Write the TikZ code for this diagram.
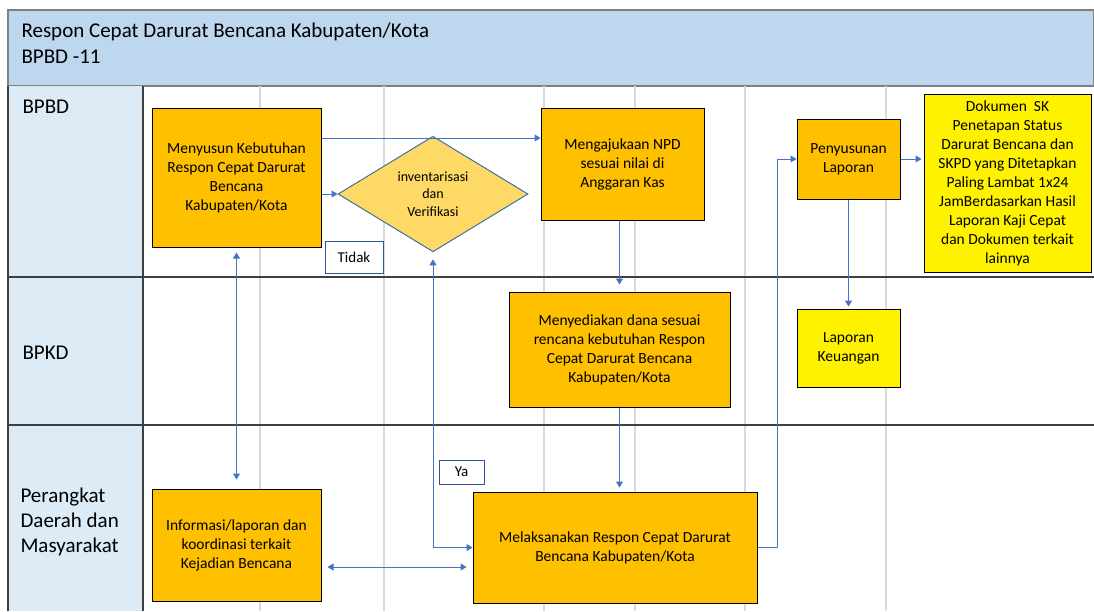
\documentclass[tikz,border=0pt]{standalone}
\usepackage{fontspec}
\setmainfont{Carlito}
\usetikzlibrary{shapes.geometric,arrows.meta,calc}

\definecolor{hdrblue}{HTML}{BDD7EE}
\definecolor{lanefill}{HTML}{DDEBF7}
\definecolor{boxorange}{HTML}{FFC000}
\definecolor{dmdfill}{HTML}{FFD966}
\definecolor{dmdline}{HTML}{41719C}
\definecolor{flowblue}{HTML}{4472C4}
\definecolor{tagblue}{HTML}{2F5597}
\definecolor{gridgray}{HTML}{D9D9D9}
\definecolor{lanegray}{HTML}{3F3F3F}

\begin{document}
\begin{tikzpicture}[x=1pt,y=1pt,yscale=-1,
  proc/.style={draw=black,line width=1pt,fill=boxorange,align=center,inner sep=1pt,font=\fontsize{15.5}{19}\selectfont},
  doc/.style={proc,fill=yellow},
  cond/.style={diamond,draw=dmdline,line width=1pt,fill=dmdfill,align=center,inner sep=0pt,font=\fontsize{14}{17.5}\selectfont},
  tag/.style={draw=tagblue,line width=1pt,fill=white,inner sep=0pt,font=\fontsize{15}{18}\selectfont},
  flow/.style={draw=flowblue,line width=1pt,-{Triangle[width=7pt,length=6pt]}},
  flowboth/.style={draw=flowblue,line width=1pt,{Triangle[width=7pt,length=6pt]}-{Triangle[width=7pt,length=6pt]}},
  gridline/.style={draw=gridgray,line width=1.2pt},
  laneline/.style={draw=lanegray,line width=1.5pt},
  lanelbl/.style={align=left,font=\fontsize{21}{25}\selectfont}]
\useasboundingbox (0,0) rectangle (1094,611);

%Shape: Rectangle [header]
\draw[draw=gray,line width=1.5pt,fill=hdrblue] (8,10) rectangle (1094,86) ;
\node[lanelbl,anchor=base west] (title) at (18,37) {Respon Cepat Darurat Bencana Kabupaten/Kota};
\node[lanelbl,anchor=base west] (code) at (18,63) {BPBD -11};

%Shape: Rectangle [lane labels]
\fill[lanefill] (8,86) rectangle (143,611) ;

%Straight Lines [grid]
\draw[gridline] (260,86) -- (260,611) ;
\draw[gridline] (384,86) -- (384,611) ;
\draw[gridline] (544,86) -- (544,611) ;
\draw[gridline] (635,86) -- (635,611) ;
\draw[gridline] (745,86) -- (745,611) ;
\draw[gridline] (886,86) -- (886,611) ;

%Straight Lines [lanes]
\draw[laneline] (8,86) -- (8,611) ;
\draw[laneline] (143,86) -- (143,611) ;
\draw[laneline] (8,277) -- (1094,277) ;
\draw[laneline] (8,425) -- (1094,425) ;

\node[lanelbl,anchor=base west] (bpbd) at (19,113) {BPBD};
\node[lanelbl,anchor=base west] (bpkd) at (19,359) {BPKD};
\node[lanelbl,anchor=west] (pdm) at (17,522) {Perangkat\\Daerah dan\\Masyarakat};

%Shape: Rectangle
\node[proc,minimum width=169pt,minimum height=139pt] (menyusun) at (236.5,177.5) {Menyusun Kebutuhan\\Respon Cepat Darurat\\Bencana\\Kabupaten/Kota};
%Shape: Diamond
\node[cond,minimum width=190pt,minimum height=94pt] (inv) at (433,194) {inventarisasi\\dan\\Verifikasi};
%Shape: Rectangle
\node[tag,minimum width=58pt,minimum height=32pt] (tidak) at (354,257) {Tidak};
\node[proc,minimum width=163pt,minimum height=112pt] (npd) at (622.5,164) {Mengajukaan NPD\\sesuai nilai di\\Anggaran Kas};
\node[proc,minimum width=103pt,minimum height=80pt] (penyus) at (848.5,159) {Penyusunan\\Laporan};
\node[doc,minimum width=167pt,minimum height=178pt] (dokumen) at (1007.5,183) {Dokumen~ SK\\Penetapan Status\\Darurat Bencana dan\\SKPD yang Ditetapkan\\Paling Lambat 1x24\\JamBerdasarkan Hasil\\Laporan Kaji Cepat\\dan Dokumen terkait\\lainnya};
\node[proc,minimum width=221pt,minimum height=115pt] (menyediakan) at (619.5,349.5) {Menyediakan dana sesuai\\rencana kebutuhan Respon\\Cepat Darurat Bencana\\Kabupaten/Kota};
\node[doc,minimum width=103pt,minimum height=78pt] (laporan) at (848.5,348) {Laporan\\Keuangan};
\node[proc,minimum width=169pt,minimum height=112pt] (informasi) at (236.5,545) {Informasi/laporan dan\\koordinasi terkait\\Kejadian Bencana};
\node[proc,minimum width=284pt,minimum height=111pt] (melak) at (615,547.5) {Melaksanakan Respon Cepat Darurat\\Bencana Kabupaten/Kota};
\node[tag,minimum width=45pt,minimum height=24pt] (ya) at (461.5,472) {Ya};

%Straight Lines
\coordinate (m1) at ($(menyusun.east)+(0,-39.5)$);
\draw[flow] (m1) -- (m1 -| npd.west) ;
\draw[flow] (menyusun.east |- inv.west) -- (inv.west) ;
\draw[flowboth,shorten <=5pt,shorten >=9pt] (menyusun.south) -- (informasi.north) ;
\draw[flowboth,shorten <=7pt] (inv.south) |- (melak.west) ;
\coordinate (m2) at ($(informasi.east)+(0,22)$);
\draw[flowboth,shorten <=6pt,shorten >=6pt] (m2) -- (m2 -| melak.west) ;
\draw[flow,shorten >=7pt] (menyediakan.north |- npd.south) -- (menyediakan.north) ;
\draw[flow,shorten >=4pt] (menyediakan.south) -- (menyediakan.south |- melak.north) ;
\draw[flow] (melak.east) -- ++(20,0) |- (penyus.west) ;
\draw[flow,shorten >=2pt] (penyus.east) -- (penyus.east -| dokumen.west) ;
\draw[flow,shorten >=2pt] (penyus.south) -- (laporan.north) ;

\end{tikzpicture}
\end{document}
